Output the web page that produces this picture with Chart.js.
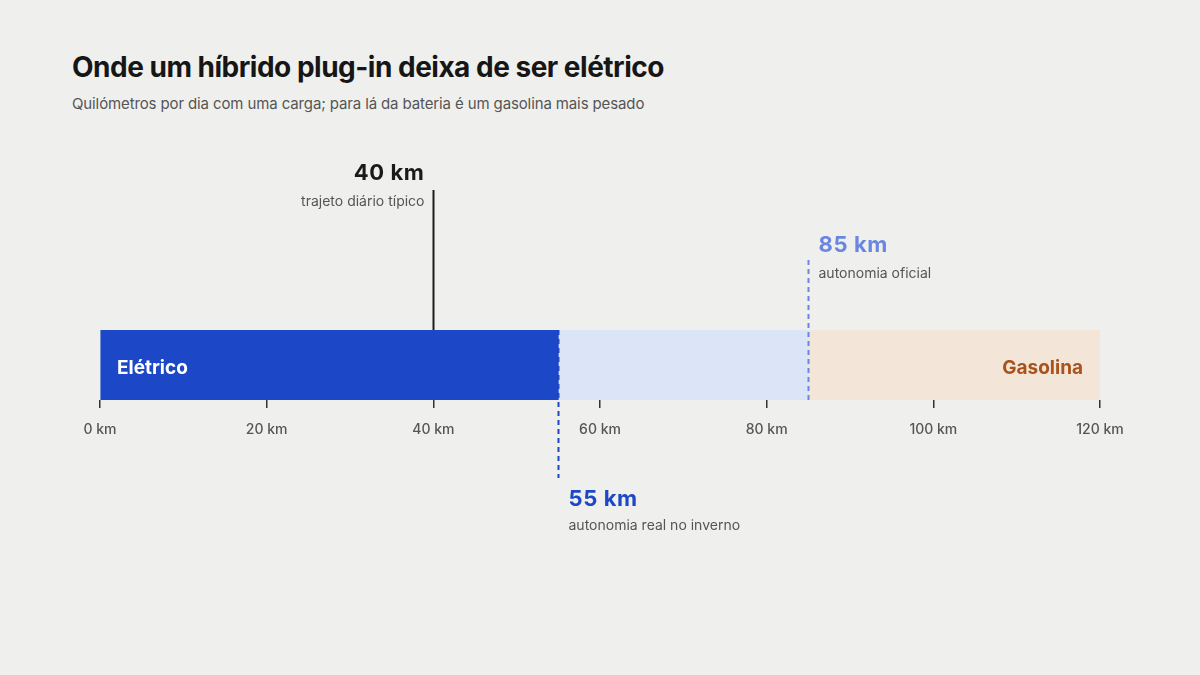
<!DOCTYPE html>
<html><head><meta charset="utf-8">
<script src="https://cdn.jsdelivr.net/npm/chart.js@4.4.1/dist/chart.umd.min.js"></script>
<style>
html,body{margin:0;padding:0;background:#eff0ed;}
#wrap{position:relative;width:1200px;height:675px;}
h1{position:absolute;left:72px;top:50px;margin:0;font:700 28px Inter,"Liberation Sans",sans-serif;letter-spacing:-0.5px;color:#161616;}
p.sub{position:absolute;left:72px;top:94px;margin:0;font:400 15px Inter,"Liberation Sans",sans-serif;letter-spacing:-0.12px;color:#555;}
canvas{position:absolute;left:0;top:0;}
</style></head>
<body><div id="wrap">
<h1>Onde um híbrido plug-in deixa de ser elétrico</h1>
<p class="sub">Quilómetros por dia com uma carga; para lá da bateria é um gasolina mais pesado</p>
<canvas id="c" width="1200" height="675"></canvas>
</div>
<script>
const segLabels = ["Elétrico", "Zona incerta", "Gasolina"];
const segStart = [0, 55, 85];
const segEnd = [55, 85, 120];
const segColors = ["#1c47c6", "#dce4f7", "#f3e5d8"];
const tickValues = [0, 20, 40, 60, 80, 100, 120];
const markerValues = [40, 85, 55];
const markerTitles = ["40 km", "85 km", "55 km"];
const markerNotes = ["trajeto diário típico", "autonomia oficial", "autonomia real no inverno"];

const FONT = 'Inter, "Liberation Sans", sans-serif';

const overlay = {
  id: 'overlay',
  afterDatasetsDraw(chart) {
    const ctx = chart.ctx, x = chart.scales.x, area = chart.chartArea;
    const top = area.top, bot = area.bottom;
    ctx.save();
    ctx.font = '700 19px ' + FONT;
    ctx.textBaseline = 'middle';
    ctx.fillStyle = '#ffffff';
    ctx.textAlign = 'left';
    ctx.fillText(segLabels[0], x.getPixelForValue(segStart[0]) + 17, (top + bot) / 2 + 3);
    ctx.fillStyle = '#a8521c';
    ctx.textAlign = 'right';
    ctx.fillText(segLabels[2], x.getPixelForValue(segEnd[2]) - 17, (top + bot) / 2 + 3);

    const title = (t, px, y, color, align) => {
      ctx.textAlign = align; ctx.fillStyle = color; ctx.font = '700 22px ' + FONT;
      if ('letterSpacing' in ctx) ctx.letterSpacing = '0.6px';
      ctx.fillText(t, px, y);
      if ('letterSpacing' in ctx) ctx.letterSpacing = '0px';
    };
    const note = (t, px, y, align) => {
      ctx.textAlign = align; ctx.fillStyle = '#555'; ctx.font = '400 14px ' + FONT;
      ctx.fillText(t, px, y);
    };
    ctx.textBaseline = 'alphabetic';

    let px = Math.round(x.getPixelForValue(markerValues[0])) + 0.5;
    ctx.strokeStyle = '#1d1d1d'; ctx.lineWidth = 2; ctx.setLineDash([]);
    ctx.beginPath(); ctx.moveTo(px, 190); ctx.lineTo(px, top); ctx.stroke();
    title(markerTitles[0], px - 9, 180, '#1a1a1a', 'right');
    note(markerNotes[0], px - 9, 206, 'right');

    px = Math.round(x.getPixelForValue(markerValues[1])) + 0.5;
    ctx.strokeStyle = '#6a86e0'; ctx.lineWidth = 2; ctx.setLineDash([5, 4]);
    ctx.beginPath(); ctx.moveTo(px, 260); ctx.lineTo(px, bot); ctx.stroke();
    title(markerTitles[1], px + 10, 252, '#6a86e0', 'left');
    note(markerNotes[1], px + 10, 278, 'left');

    px = Math.round(x.getPixelForValue(markerValues[2])) + 0.5;
    ctx.strokeStyle = '#1c47c6'; ctx.lineWidth = 2; ctx.setLineDash([5, 4]);
    ctx.beginPath(); ctx.moveTo(px, top); ctx.lineTo(px, 478); ctx.stroke();
    title(markerTitles[2], px + 10, 506, '#1c47c6', 'left');
    note(markerNotes[2], px + 10, 530, 'left');
    ctx.restore();
  }
};

new Chart(document.getElementById('c'), {
  type: 'bar',
  data: {
    labels: ['PHEV'],
    datasets: segLabels.map((l, i) => ({
      label: l,
      data: [[segStart[i], segEnd[i]]],
      backgroundColor: segColors[i],
      borderWidth: 0,
      barPercentage: 1,
      categoryPercentage: 1
    }))
  },
  options: {
    indexAxis: 'y',
    responsive: false,
    animation: false,
    layout: { padding: { left: 100, right: 100, top: 330, bottom: 0 } },
    plugins: { legend: { display: false }, tooltip: { enabled: false }, title: { display: false } },
    scales: {
      y: { display: false, stacked: true },
      x: {
        min: 0, max: 120, stacked: false,
        afterFit(s) { s.height = 275; },
        afterBuildTicks(s) { s.ticks = tickValues.map(v => ({ value: v })); },
        border: { display: false },
        grid: { drawOnChartArea: false, drawTicks: true, tickLength: 8, color: '#333', lineWidth: 1.5 },
        ticks: {
          padding: 13,
          color: '#555',
          font: { family: FONT, size: 14, weight: 500 },
          callback: v => v + ' km',
          maxRotation: 0
        }
      }
    }
  },
  plugins: [overlay]
});
</script>
</body></html>
